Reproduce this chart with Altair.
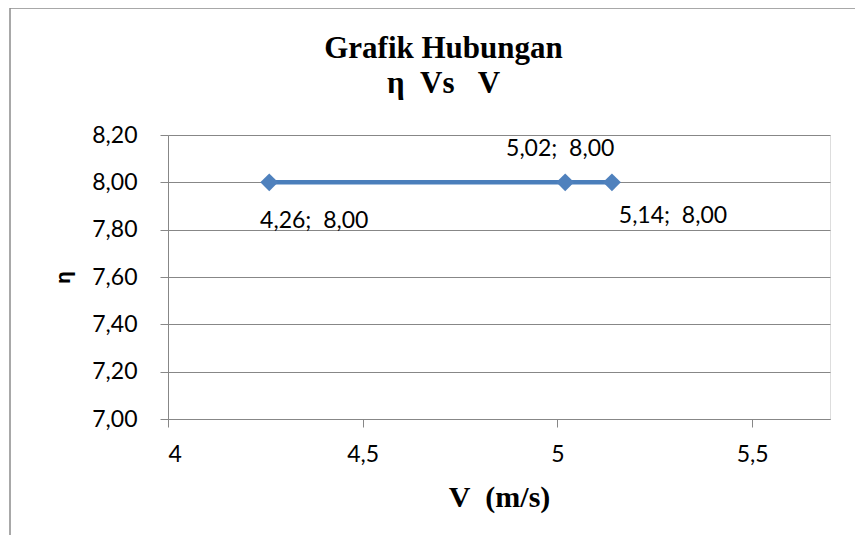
import altair as alt
import pandas as pd

# data
v_values = [4.26, 5.02, 5.14]
eta_values = [8.00, 8.00, 8.00]
x_ticks = [4, 4.5, 5, 5.5]
y_ticks = [7.0, 7.2, 7.4, 7.6, 7.8, 8.0, 8.2]
title_lines = ["Grafik Hubungan", "η\u00a0\u00a0Vs\u00a0\u00a0\u00a0V"]
label_offsets = [(45, 46), (-5, -26), (61, 41)]  # per-point data-label placement (style)

df = pd.DataFrame({"idx": list(range(len(v_values))), "V": v_values, "eta": eta_values})

NB = "\u00a0"
GRAY = "#878787"
LABEL_FONT = "Lato"
SERIF = "Liberation Serif"

x_enc = alt.X(
    "V:Q",
    scale=alt.Scale(domain=[4, 5.7], nice=False, zero=False),
    axis=alt.Axis(
        values=x_ticks,
        grid=False,
        tickSize=8,
        tickColor=GRAY,
        domainColor=GRAY,
        labelFont=LABEL_FONT,
        labelFontSize=23,
        labelColor="black",
        labelPadding=16,
        labelExpr="replace(toString(datum.value), '.', ',')",
        title=f"V{NB}{NB}(m/s)",
        titleFont=SERIF,
        titleFontWeight="bold",
        titleFontSize=30,
        titleColor="black",
        titleX=331,
        titleY=87,
        titleBaseline="alphabetic",
        titleAlign="center",
    ),
)
y_enc = alt.Y(
    "eta:Q",
    scale=alt.Scale(domain=[7.0, 8.2], nice=False, zero=False),
    axis=alt.Axis(
        values=y_ticks,
        grid=True,
        gridColor=GRAY,
        tickSize=8,
        tickColor=GRAY,
        domainColor=GRAY,
        labelFont=LABEL_FONT,
        labelFontSize=23,
        labelColor="black",
        labelPadding=23,
        labelExpr="replace(format(datum.value, '.2f'), '.', ',')",
        title="η",
        titleFont="Noto Sans",
        titleFontWeight="bold",
        titleFontSize=20,
        titleColor="black",
        titleAngle=270,
        titleX=-105,
        titleY=142,
        titleAlign="center",
        titleBaseline="middle",
    ),
)

base = alt.Chart(df).encode(x=x_enc, y=y_enc)

line = base.mark_line(color="#4A7EBB", strokeWidth=4.5)
points = base.mark_point(shape="diamond", size=320, filled=True, color="#4F81BD", opacity=1)

label_layers = []
for i, (dx, dy) in enumerate(label_offsets):
    label_layers.append(
        base.transform_filter(alt.datum.idx == i)
        .transform_calculate(
            label="replace(format(datum.V, '.2f'), '.', ',') + ';\u00a0\u00a0' + replace(format(datum.eta, '.2f'), '.', ',')"
        )
        .mark_text(
            font=LABEL_FONT, fontSize=23, color="black", align="center", baseline="alphabetic", dx=dx, dy=dy
        )
        .encode(text="label:N")
    )

one_row = alt.Data(values=[{"a": 1}])

frame = (
    alt.Chart(one_row)
    .mark_rect(fill="transparent", stroke="#8c8c8c", strokeWidth=1.5)
    .encode(x=alt.value(-158), x2=alt.value(720), y=alt.value(-127), y2=alt.value(500))
)

# chart title carried by an invisible top axis (axis titles render with the chosen font)
title_holder = (
    alt.Chart(one_row)
    .mark_point(opacity=0)
    .encode(
        x=alt.X(
            "a:Q",
            scale=alt.Scale(domain=[0, 2]),
            axis=alt.Axis(
                orient="top",
                labels=False,
                ticks=False,
                domain=False,
                grid=False,
                title=title_lines,
                titleFont=SERIF,
                titleFontWeight="bold",
                titleFontSize=31,
                titleLineHeight=35,
                titleColor="black",
                titleX=275,
                titleY=-78,
                titleAlign="center",
                titleBaseline="alphabetic",
            ),
        ),
        y=alt.value(0),
    )
)

main = alt.layer(line, points, *label_layers)

chart = (
    alt.layer(frame, title_holder, main)
    .resolve_scale(x="independent")
    .resolve_axis(x="independent")
    .properties(
        width=662,
        height=284,
        autosize=alt.AutoSizeParams(type="none"),
        padding={"left": 160, "top": 127, "right": 25, "bottom": 116},
    )
    .configure_view(stroke="transparent")
    .configure_text(font=LABEL_FONT)
    .configure(background="white")
)

chart.save("out.html", embed_options={"renderer": "svg", "actions": False})
